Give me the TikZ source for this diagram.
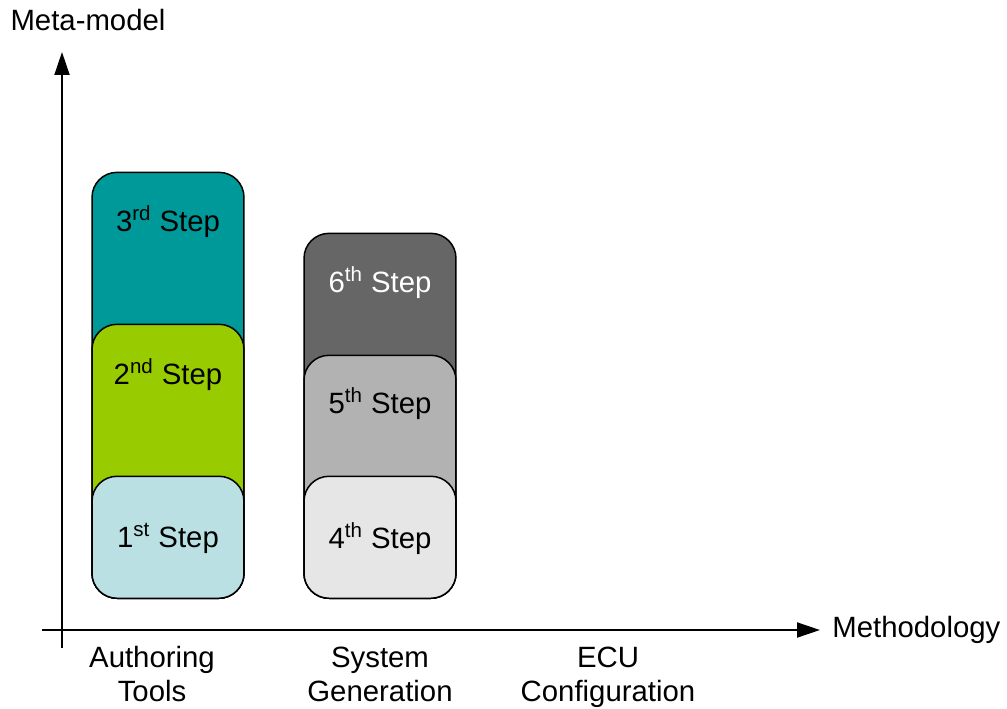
\documentclass[tikz,border=0pt]{standalone}
\usepackage{fontspec}
\setmainfont{Liberation Sans}
\usetikzlibrary{arrows.meta,calc,positioning}
\definecolor{stepteal}{HTML}{009999}
\definecolor{stepgreen}{HTML}{99CC00}
\definecolor{steplight}{HTML}{BAE0E3}
\definecolor{stepdark}{HTML}{666666}
\definecolor{stepmid}{HTML}{B2B2B2}
\definecolor{steppale}{HTML}{E6E6E6}

\begin{document}
\begin{tikzpicture}[x=0.02cm, y=-0.02cm,
  every node/.style={font=\fontsize{16.7}{19.3}\selectfont},
  stepbox/.style={draw, line width=0.85pt, rounded corners=0.5cm, minimum width=3.04cm, inner sep=0pt, anchor=south},
  axis/.style={line width=1.1pt, -{Triangle[length=0.46cm, width=0.3cm]}}]
  \useasboundingbox (0,0) rectangle (1007,709);

  % Authoring tools column
  \node[stepbox, fill=stepteal, minimum height=8.52cm] (s3) at (168,599) {};
  \node[stepbox, fill=stepgreen, minimum height=5.48cm] (s2) at (168,599) {};
  \node[stepbox, fill=steplight, minimum height=2.44cm] (s1) at (168,599) {};
  \node (t3) at ($(s3.north)+(0,50)$) {3\textsuperscript{rd} Step};
  \node (t2) at ($(s2.north)+(0,51)$) {2\textsuperscript{nd} Step};
  \node (t1) at ($(s1.center)+(0,1)$) {1\textsuperscript{st} Step};

  % System generation column
  \node[stepbox, fill=stepdark, minimum height=7.30cm] (s6) at (380,599) {};
  \node[stepbox, fill=stepmid, minimum height=4.86cm] (s5) at (380,599) {};
  \node[stepbox, fill=steppale, minimum height=2.44cm] (s4) at (380,599) {};
  \node[white] (t6) at ($(s6.north)+(0,50)$) {6\textsuperscript{th} Step};
  \node (t5) at ($(s5.north)+(0,49)$) {5\textsuperscript{th} Step};
  \node (t4) at ($(s4.center)+(0,1)$) {4\textsuperscript{th} Step};

  % Axes
  \coordinate (ybot) at (62,648);
  \coordinate (ytop) at (62,52);
  \coordinate (xleft) at (42,630);
  \coordinate (xright) at (820,630);
  \draw[axis] (ybot) -- (ytop);
  \draw[axis] (xleft) -- (xright);
  \node (meta) at (88,20) {Meta-model};
  \node[anchor=west, inner sep=0pt] (meth) at (832,630) {Methodology};

  % Phases
  \node[align=center] (auth) at (152,674) {Authoring\\Tools};
  \node[align=center] (sysgen) at (380,674) {System\\Generation};
  \node[align=center] (ecu) at (608,677) {ECU\\Configuration};
\end{tikzpicture}
\end{document}
